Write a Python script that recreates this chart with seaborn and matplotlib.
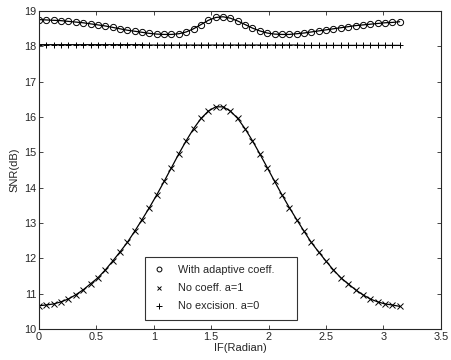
import matplotlib
matplotlib.use('Agg')
import matplotlib.pyplot as plt
import seaborn as sns
import pandas as pd
from matplotlib.lines import Line2D

# ── data ─────────────────────────────────────────────────────
if_rad = [0.000, 0.064, 0.128, 0.192, 0.256, 0.321, 0.385, 0.449, 0.513, 0.577,
          0.641, 0.705, 0.769, 0.834, 0.898, 0.962, 1.026, 1.090, 1.154, 1.218,
          1.282, 1.346, 1.411, 1.475, 1.539, 1.603, 1.667, 1.731, 1.795, 1.859,
          1.923, 1.988, 2.052, 2.116, 2.180, 2.244, 2.308, 2.372, 2.436, 2.500,
          2.565, 2.629, 2.693, 2.757, 2.821, 2.885, 2.949, 3.013, 3.078, 3.142]

snr_adaptive = [18.76, 18.75, 18.74, 18.73, 18.71, 18.69, 18.67, 18.64, 18.61, 18.58,
                18.54, 18.50, 18.46, 18.43, 18.40, 18.37, 18.35, 18.34, 18.34, 18.36,
                18.41, 18.50, 18.62, 18.74, 18.82, 18.84, 18.80, 18.72, 18.62, 18.52,
                18.44, 18.38, 18.35, 18.34, 18.34, 18.36, 18.38, 18.41, 18.44, 18.47,
                18.50, 18.53, 18.56, 18.59, 18.61, 18.63, 18.65, 18.67, 18.68, 18.70]

snr_a1 = [10.66, 10.68, 10.71, 10.77, 10.85, 10.97, 11.11, 11.28, 11.45, 11.67,
          11.92, 12.18, 12.45, 12.77, 13.10, 13.44, 13.80, 14.18, 14.57, 14.96,
          15.33, 15.67, 15.96, 16.17, 16.29, 16.29, 16.17, 15.96, 15.67, 15.33,
          14.96, 14.57, 14.18, 13.80, 13.44, 13.10, 12.77, 12.45, 12.18, 11.92,
          11.67, 11.45, 11.28, 11.11, 10.97, 10.85, 10.77, 10.71, 10.68, 10.64]

snr_a0 = [18.05, 18.05, 18.05, 18.05, 18.05, 18.05, 18.05, 18.05, 18.05, 18.05,
          18.05, 18.05, 18.05, 18.05, 18.05, 18.04, 18.04, 18.04, 18.04, 18.04,
          18.04, 18.04, 18.04, 18.04, 18.04, 18.04, 18.04, 18.04, 18.04, 18.04,
          18.04, 18.04, 18.04, 18.04, 18.04, 18.04, 18.03, 18.03, 18.03, 18.03,
          18.03, 18.03, 18.03, 18.03, 18.03, 18.03, 18.03, 18.03, 18.03, 18.03]

labels = ['With adaptive coeff.', 'No coeff. a=1', 'No excision. a=0']
xticks = [0, 0.5, 1, 1.5, 2, 2.5, 3, 3.5]
xtick_labels = ['0', '0.5', '1', '1.5', '2', '2.5', '3', '3.5']
yticks = [10, 11, 12, 13, 14, 15, 16, 17, 18, 19]

df = pd.DataFrame({'IF': if_rad, 'adaptive': snr_adaptive,
                   'a1': snr_a1, 'a0': snr_a0})

# ── style ────────────────────────────────────────────────────
sns.set_style('ticks')
plt.rcParams.update({
    'font.family': ['Liberation Sans', 'DejaVu Sans'],
    'font.size': 8,
    'xtick.direction': 'in',
    'ytick.direction': 'in',
    'xtick.top': True,
    'ytick.right': True,
    'axes.linewidth': 0.8,
})

fig = plt.figure(figsize=(4.52, 3.6), dpi=100)
ax = fig.add_axes([0.0863, 0.0861, 0.889, 0.883])

sns.lineplot(data=df, x='IF', y='adaptive', ax=ax, color='black', lw=0.9,
             marker='o', ms=4.5, mfc='none', mec='black', mew=0.7)
sns.lineplot(data=df, x='IF', y='a1', ax=ax, color='black', lw=0.9,
             marker='x', ms=4.5, mec='black', mew=0.7)
sns.lineplot(data=df, x='IF', y='a0', ax=ax, color='black', lw=0.9,
             marker='+', ms=5, mec='black', mew=0.7)

ax.set_xlim(0, 3.5)
ax.set_ylim(10, 19)
ax.set_xticks(xticks)
ax.set_xticklabels(xtick_labels)
ax.set_yticks(yticks)
ax.tick_params(labelsize=7.8, length=3, width=0.6, pad=2)
ax.set_xlabel('IF(Radian)', fontsize=8, labelpad=1)
ax.set_ylabel('SNR(dB)', fontsize=8, labelpad=3)
for s in ax.spines.values():
    s.set_visible(True)

handles = [
    Line2D([], [], ls='none', marker='o', ms=3.5, mfc='none', mec='black', mew=0.7),
    Line2D([], [], ls='none', marker='x', ms=3.5, mec='black', mew=0.7),
    Line2D([], [], ls='none', marker='+', ms=4, mec='black', mew=0.7),
]
leg = ax.legend(handles, labels, loc='lower left',
                bbox_to_anchor=(0.264, 0.028, 0.378, 0.208), mode='expand',
                fontsize=7.8, frameon=True, fancybox=False, edgecolor='black',
                handlelength=1.0, handletextpad=1.2, borderpad=0.8,
                labelspacing=0.75, borderaxespad=0)
leg.get_frame().set_linewidth(0.8)

fig.savefig('out.png', dpi=100)
